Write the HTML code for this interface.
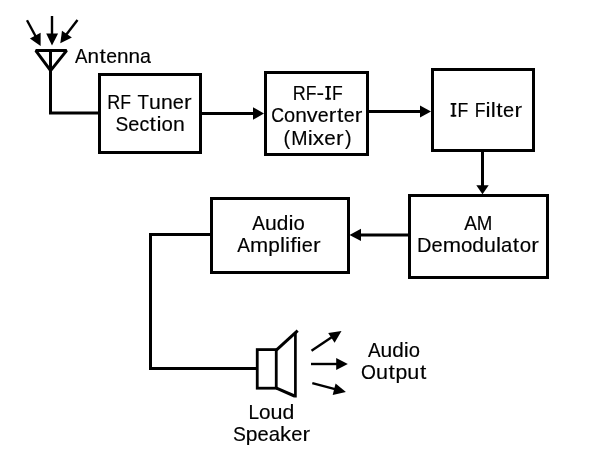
<!DOCTYPE html>
<html><head><meta charset="utf-8"><style>
html,body{margin:0;padding:0;background:#fff;width:600px;height:464px;overflow:hidden}
svg{display:block;will-change:transform}
text{font-family:"Liberation Sans",sans-serif;fill:#000;stroke:#000;stroke-width:0.15px}
</style></head><body>
<svg width="600" height="464" viewBox="0 0 600 464">
<g>
<rect x="99.5" y="74.5" width="101" height="78" stroke-width="3" stroke="#000" fill="none"/>
<rect x="265.5" y="72.5" width="102" height="82" stroke-width="3" stroke="#000" fill="none"/>
<rect x="432.5" y="69.5" width="101" height="81" stroke-width="3" stroke="#000" fill="none"/>
<rect x="409.5" y="195.5" width="138" height="82" stroke-width="3" stroke="#000" fill="none"/>
<rect x="211.5" y="198.5" width="137" height="74" stroke-width="3" stroke="#000" fill="none"/>
<polyline points="50.5,52 50.5,113 98,113" stroke-width="3" stroke-linejoin="miter" stroke="#000" fill="none"/>
<polygon points="35.8,50.6 66.6,50.6 50.6,70.6" stroke-width="3" stroke-linejoin="bevel" stroke="#000" fill="none"/>
<line x1="52" y1="16" x2="52" y2="34" stroke-width="2.4" stroke="#000" fill="none"/>
<polygon points="46.2,33.5 58.1,33.5 52,45.6" fill="#000"/>
<line x1="27" y1="20.2" x2="36" y2="37" stroke-width="2.4" stroke="#000" fill="none"/>
<polygon points="29.9,38.4 40.6,32.8 40.6,46" fill="#000"/>
<line x1="77.5" y1="20" x2="66" y2="35" stroke-width="2.4" stroke="#000" fill="none"/>
<polygon points="62,30.7 71.9,37.4 60.3,43.2" fill="#000"/>
<line x1="202" y1="113.5" x2="254" y2="113.5" stroke-width="3" stroke="#000" fill="none"/>
<polygon points="253,107.3 264,113.5 253,119.7" fill="#000"/>
<line x1="369" y1="111.5" x2="421" y2="111.5" stroke-width="3" stroke="#000" fill="none"/>
<polygon points="420,105.6 431,111.5 420,117.5" fill="#000"/>
<line x1="482.5" y1="152" x2="482.5" y2="186" stroke-width="3" stroke="#000" fill="none"/>
<polygon points="476.3,185.3 488.7,185.3 482.5,194.2" fill="#000"/>
<line x1="408" y1="235" x2="360" y2="235" stroke-width="3" stroke="#000" fill="none"/>
<polygon points="361,228.8 349.5,235 361,241" fill="#000"/>
<polyline points="210,234.5 150.5,234.5 150.5,368.5 256,368.5" stroke-width="3" stroke-linejoin="miter" stroke="#000" fill="none"/>
<rect x="257.25" y="349.6" width="19" height="38.6" stroke-width="2.8" stroke="#000" fill="none"/>
<line x1="276.3" y1="350.2" x2="297.7" y2="330.6" stroke-width="3" stroke="#000" fill="none"/>
<line x1="295.4" y1="332" x2="295.4" y2="397.5" stroke-width="2.7" stroke="#000" fill="none"/>
<line x1="276.5" y1="388.2" x2="294.5" y2="396" stroke-width="3" stroke="#000" fill="none"/>
<line x1="311.5" y1="350.8" x2="332" y2="337" stroke-width="2.4" stroke="#000" fill="none"/>
<polygon points="328.2,332.9 341.5,331 334.6,342.7" fill="#000"/>
<line x1="311" y1="364" x2="337" y2="364" stroke-width="2.4" stroke="#000" fill="none"/>
<polygon points="336.2,358.1 347.8,364 336.2,369.9" fill="#000"/>
<line x1="312.3" y1="383.1" x2="335" y2="389.2" stroke-width="2.4" stroke="#000" fill="none"/>
<polygon points="335.6,383.6 345.9,392 332.7,394.9" fill="#000"/>

</g>
<g fill="#000">
<text x="75.00" y="62.70" font-size="19.80" textLength="12.47" lengthAdjust="spacingAndGlyphs">A</text>
<text x="87.47" y="62.70" font-size="19.80" textLength="11.54" lengthAdjust="spacingAndGlyphs">n</text>
<text x="99.43" y="62.70" font-size="19.80" textLength="6.33" lengthAdjust="spacingAndGlyphs">t</text>
<text x="106.18" y="62.70" font-size="19.80" textLength="10.84" lengthAdjust="spacingAndGlyphs">e</text>
<text x="117.03" y="62.70" font-size="19.80" textLength="11.54" lengthAdjust="spacingAndGlyphs">n</text>
<text x="128.56" y="62.70" font-size="19.80" textLength="11.54" lengthAdjust="spacingAndGlyphs">n</text>
<text x="140.10" y="62.70" font-size="19.80" textLength="10.95" lengthAdjust="spacingAndGlyphs">a</text>
<text x="107.32" y="109.40" font-size="19.80" textLength="12.97" lengthAdjust="spacingAndGlyphs">R</text>
<text x="120.29" y="109.40" font-size="19.80" textLength="10.73" lengthAdjust="spacingAndGlyphs">F</text>
<text x="137.59" y="109.40" font-size="19.80" textLength="11.50" lengthAdjust="spacingAndGlyphs">T</text>
<text x="149.09" y="109.40" font-size="19.80" textLength="11.81" lengthAdjust="spacingAndGlyphs">u</text>
<text x="160.91" y="109.40" font-size="19.80" textLength="11.81" lengthAdjust="spacingAndGlyphs">n</text>
<text x="172.72" y="109.40" font-size="19.80" textLength="11.10" lengthAdjust="spacingAndGlyphs">e</text>
<text x="184.02" y="109.40" font-size="19.80" textLength="7.58" lengthAdjust="spacingAndGlyphs">r</text>
<text x="115.49" y="131.20" font-size="19.80" textLength="12.78" lengthAdjust="spacingAndGlyphs">S</text>
<text x="128.27" y="131.20" font-size="19.80" textLength="11.11" lengthAdjust="spacingAndGlyphs">e</text>
<text x="139.38" y="131.20" font-size="19.80" textLength="9.73" lengthAdjust="spacingAndGlyphs">c</text>
<text x="149.63" y="131.20" font-size="19.80" textLength="6.33" lengthAdjust="spacingAndGlyphs">t</text>
<text x="156.49" y="131.20" font-size="19.80" textLength="5.06" lengthAdjust="spacingAndGlyphs">i</text>
<text x="161.57" y="131.20" font-size="19.80" textLength="11.36" lengthAdjust="spacingAndGlyphs">o</text>
<text x="172.93" y="131.20" font-size="19.80" textLength="11.82" lengthAdjust="spacingAndGlyphs">n</text>
<text x="292.68" y="99.60" font-size="19.80" textLength="12.96" lengthAdjust="spacingAndGlyphs">R</text>
<text x="305.64" y="99.60" font-size="19.80" textLength="10.72" lengthAdjust="spacingAndGlyphs">F</text>
<text x="316.49" y="99.60" font-size="19.80" textLength="7.58" lengthAdjust="spacingAndGlyphs">-</text>
<rect x="327.08" y="86.00" width="2.10" height="13.60"/>
<rect x="325.33" y="86.00" width="5.60" height="1.75"/>
<rect x="325.33" y="97.85" width="5.60" height="1.75"/>
<text x="332.06" y="99.60" font-size="19.80" textLength="10.72" lengthAdjust="spacingAndGlyphs">F</text>
<text x="271.22" y="121.80" font-size="19.80" textLength="12.81" lengthAdjust="spacingAndGlyphs">C</text>
<text x="284.03" y="121.80" font-size="19.80" textLength="11.16" lengthAdjust="spacingAndGlyphs">o</text>
<text x="295.20" y="121.80" font-size="19.80" textLength="11.62" lengthAdjust="spacingAndGlyphs">n</text>
<text x="306.82" y="121.80" font-size="19.80" textLength="10.87" lengthAdjust="spacingAndGlyphs">v</text>
<text x="317.69" y="121.80" font-size="19.80" textLength="10.92" lengthAdjust="spacingAndGlyphs">e</text>
<text x="328.74" y="121.80" font-size="19.80" textLength="7.58" lengthAdjust="spacingAndGlyphs">r</text>
<text x="336.90" y="121.80" font-size="19.80" textLength="6.33" lengthAdjust="spacingAndGlyphs">t</text>
<text x="343.68" y="121.80" font-size="19.80" textLength="10.92" lengthAdjust="spacingAndGlyphs">e</text>
<text x="354.73" y="121.80" font-size="19.80" textLength="7.58" lengthAdjust="spacingAndGlyphs">r</text>
<text x="283.59" y="144.80" font-size="19.80" textLength="6.59" lengthAdjust="spacingAndGlyphs">(</text>
<text x="291.27" y="144.80" font-size="19.80" textLength="16.29" lengthAdjust="spacingAndGlyphs">M</text>
<text x="307.67" y="144.80" font-size="19.80" textLength="5.06" lengthAdjust="spacingAndGlyphs">i</text>
<text x="312.86" y="144.80" font-size="19.80" textLength="11.38" lengthAdjust="spacingAndGlyphs">x</text>
<text x="324.27" y="144.80" font-size="19.80" textLength="11.50" lengthAdjust="spacingAndGlyphs">e</text>
<text x="336.11" y="144.80" font-size="19.80" textLength="7.58" lengthAdjust="spacingAndGlyphs">r</text>
<text x="345.11" y="144.80" font-size="19.80" textLength="6.59" lengthAdjust="spacingAndGlyphs">)</text>
<rect x="452.44" y="103.00" width="2.10" height="13.60"/>
<rect x="450.69" y="103.00" width="5.60" height="1.75"/>
<rect x="450.69" y="114.85" width="5.60" height="1.75"/>
<text x="457.43" y="116.60" font-size="19.80" textLength="10.76" lengthAdjust="spacingAndGlyphs">F</text>
<text x="474.77" y="116.60" font-size="19.80" textLength="10.76" lengthAdjust="spacingAndGlyphs">F</text>
<text x="485.56" y="116.60" font-size="19.80" textLength="5.06" lengthAdjust="spacingAndGlyphs">i</text>
<text x="490.66" y="116.60" font-size="19.80" textLength="5.06" lengthAdjust="spacingAndGlyphs">l</text>
<text x="496.27" y="116.60" font-size="19.80" textLength="6.33" lengthAdjust="spacingAndGlyphs">t</text>
<text x="503.12" y="116.60" font-size="19.80" textLength="11.13" lengthAdjust="spacingAndGlyphs">e</text>
<text x="514.45" y="116.60" font-size="19.80" textLength="7.58" lengthAdjust="spacingAndGlyphs">r</text>
<text x="464.23" y="229.80" font-size="19.80" textLength="12.64" lengthAdjust="spacingAndGlyphs">A</text>
<text x="476.87" y="229.80" font-size="19.80" textLength="15.58" lengthAdjust="spacingAndGlyphs">M</text>
<text x="417.09" y="251.80" font-size="19.80" textLength="14.45" lengthAdjust="spacingAndGlyphs">D</text>
<text x="431.54" y="251.80" font-size="19.80" textLength="11.16" lengthAdjust="spacingAndGlyphs">e</text>
<text x="442.70" y="251.80" font-size="19.80" textLength="18.27" lengthAdjust="spacingAndGlyphs">m</text>
<text x="460.97" y="251.80" font-size="19.80" textLength="11.41" lengthAdjust="spacingAndGlyphs">o</text>
<text x="472.38" y="251.80" font-size="19.80" textLength="11.69" lengthAdjust="spacingAndGlyphs">d</text>
<text x="484.07" y="251.80" font-size="19.80" textLength="11.88" lengthAdjust="spacingAndGlyphs">u</text>
<text x="495.98" y="251.80" font-size="19.80" textLength="5.06" lengthAdjust="spacingAndGlyphs">l</text>
<text x="501.07" y="251.80" font-size="19.80" textLength="11.28" lengthAdjust="spacingAndGlyphs">a</text>
<text x="512.87" y="251.80" font-size="19.80" textLength="6.33" lengthAdjust="spacingAndGlyphs">t</text>
<text x="519.73" y="251.80" font-size="19.80" textLength="11.41" lengthAdjust="spacingAndGlyphs">o</text>
<text x="531.35" y="251.80" font-size="19.80" textLength="7.58" lengthAdjust="spacingAndGlyphs">r</text>
<text x="252.36" y="229.70" font-size="19.80" textLength="12.73" lengthAdjust="spacingAndGlyphs">A</text>
<text x="265.09" y="229.70" font-size="19.80" textLength="11.78" lengthAdjust="spacingAndGlyphs">u</text>
<text x="276.87" y="229.70" font-size="19.80" textLength="11.59" lengthAdjust="spacingAndGlyphs">d</text>
<text x="288.47" y="229.70" font-size="19.80" textLength="5.06" lengthAdjust="spacingAndGlyphs">i</text>
<text x="293.54" y="229.70" font-size="19.80" textLength="11.31" lengthAdjust="spacingAndGlyphs">o</text>
<text x="237.37" y="251.50" font-size="19.80" textLength="12.75" lengthAdjust="spacingAndGlyphs">A</text>
<text x="250.12" y="251.50" font-size="19.80" textLength="18.16" lengthAdjust="spacingAndGlyphs">m</text>
<text x="268.27" y="251.50" font-size="19.80" textLength="11.61" lengthAdjust="spacingAndGlyphs">p</text>
<text x="279.90" y="251.50" font-size="19.80" textLength="5.06" lengthAdjust="spacingAndGlyphs">l</text>
<text x="284.99" y="251.50" font-size="19.80" textLength="5.06" lengthAdjust="spacingAndGlyphs">i</text>
<text x="290.18" y="251.50" font-size="19.80" textLength="6.33" lengthAdjust="spacingAndGlyphs">f</text>
<text x="296.64" y="251.50" font-size="19.80" textLength="5.06" lengthAdjust="spacingAndGlyphs">i</text>
<text x="301.71" y="251.50" font-size="19.80" textLength="11.09" lengthAdjust="spacingAndGlyphs">e</text>
<text x="312.99" y="251.50" font-size="19.80" textLength="7.58" lengthAdjust="spacingAndGlyphs">r</text>
<text x="367.95" y="356.50" font-size="19.80" textLength="12.65" lengthAdjust="spacingAndGlyphs">A</text>
<text x="380.60" y="356.50" font-size="19.80" textLength="11.71" lengthAdjust="spacingAndGlyphs">u</text>
<text x="392.31" y="356.50" font-size="19.80" textLength="11.52" lengthAdjust="spacingAndGlyphs">d</text>
<text x="403.84" y="356.50" font-size="19.80" textLength="5.05" lengthAdjust="spacingAndGlyphs">i</text>
<text x="408.89" y="356.50" font-size="19.80" textLength="11.25" lengthAdjust="spacingAndGlyphs">o</text>
<text x="361.10" y="378.70" font-size="19.80" textLength="14.93" lengthAdjust="spacingAndGlyphs">O</text>
<text x="376.03" y="378.70" font-size="19.80" textLength="12.01" lengthAdjust="spacingAndGlyphs">u</text>
<text x="388.61" y="378.70" font-size="19.80" textLength="6.33" lengthAdjust="spacingAndGlyphs">t</text>
<text x="395.51" y="378.70" font-size="19.80" textLength="11.82" lengthAdjust="spacingAndGlyphs">p</text>
<text x="407.32" y="378.70" font-size="19.80" textLength="12.01" lengthAdjust="spacingAndGlyphs">u</text>
<text x="419.90" y="378.70" font-size="19.80" textLength="6.33" lengthAdjust="spacingAndGlyphs">t</text>
<text x="248.52" y="418.90" font-size="19.80" textLength="10.56" lengthAdjust="spacingAndGlyphs">L</text>
<text x="259.08" y="418.90" font-size="19.80" textLength="11.53" lengthAdjust="spacingAndGlyphs">o</text>
<text x="270.61" y="418.90" font-size="19.80" textLength="12.00" lengthAdjust="spacingAndGlyphs">u</text>
<text x="282.62" y="418.90" font-size="19.80" textLength="11.81" lengthAdjust="spacingAndGlyphs">d</text>
<text x="232.91" y="440.80" font-size="19.80" textLength="12.88" lengthAdjust="spacingAndGlyphs">S</text>
<text x="245.79" y="440.80" font-size="19.80" textLength="11.73" lengthAdjust="spacingAndGlyphs">p</text>
<text x="257.52" y="440.80" font-size="19.80" textLength="11.21" lengthAdjust="spacingAndGlyphs">e</text>
<text x="268.73" y="440.80" font-size="19.80" textLength="11.32" lengthAdjust="spacingAndGlyphs">a</text>
<text x="280.04" y="440.80" font-size="19.80" textLength="11.15" lengthAdjust="spacingAndGlyphs">k</text>
<text x="291.19" y="440.80" font-size="19.80" textLength="11.21" lengthAdjust="spacingAndGlyphs">e</text>
<text x="302.63" y="440.80" font-size="19.80" textLength="7.58" lengthAdjust="spacingAndGlyphs">r</text>
</g>
</svg>
</body></html>
